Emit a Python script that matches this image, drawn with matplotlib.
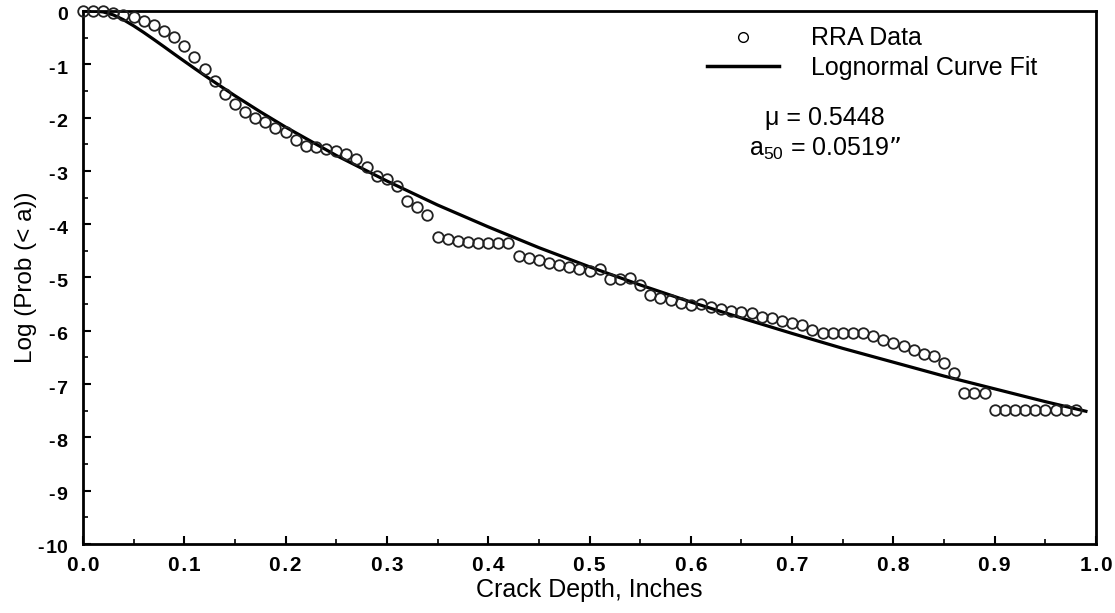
import matplotlib
matplotlib.use("Agg")
import matplotlib.pyplot as plt
from matplotlib.lines import Line2D
from matplotlib.ticker import MultipleLocator, FuncFormatter
from matplotlib.transforms import ScaledTranslation

# RRA data (crack depth in inches, log probability)
rra_depth = [0.00, 0.01, 0.02, 0.03, 0.04, 0.05, 0.06, 0.07, 0.08, 0.09,
             0.10, 0.11, 0.12, 0.13, 0.14, 0.15, 0.16, 0.17, 0.18, 0.19,
             0.20, 0.21, 0.22, 0.23, 0.24, 0.25, 0.26, 0.27, 0.28, 0.29,
             0.30, 0.31, 0.32, 0.33, 0.34, 0.35, 0.36, 0.37, 0.38, 0.39,
             0.40, 0.41, 0.42, 0.43, 0.44, 0.45, 0.46, 0.47, 0.48, 0.49,
             0.50, 0.51, 0.52, 0.53, 0.54, 0.55, 0.56, 0.57, 0.58, 0.59,
             0.60, 0.61, 0.62, 0.63, 0.64, 0.65, 0.66, 0.67, 0.68, 0.69,
             0.70, 0.71, 0.72, 0.73, 0.74, 0.75, 0.76, 0.77, 0.78, 0.79,
             0.80, 0.81, 0.82, 0.83, 0.84, 0.85, 0.86, 0.87, 0.88, 0.89,
             0.90, 0.91, 0.92, 0.93, 0.94, 0.95, 0.96, 0.97, 0.98]
rra_logp = [0.00, 0.00, 0.00, -0.03, -0.08, -0.12, -0.18, -0.26, -0.37, -0.49,
            -0.66, -0.86, -1.08, -1.32, -1.55, -1.75, -1.89, -2.00, -2.09, -2.19,
            -2.28, -2.42, -2.53, -2.56, -2.59, -2.63, -2.68, -2.78, -2.93, -3.09,
            -3.16, -3.28, -3.56, -3.68, -3.83, -4.24, -4.28, -4.31, -4.34, -4.35,
            -4.36, -4.36, -4.36, -4.60, -4.64, -4.68, -4.72, -4.77, -4.80, -4.85,
            -4.88, -4.85, -5.03, -5.03, -5.01, -5.14, -5.33, -5.38, -5.43, -5.48,
            -5.51, -5.49, -5.55, -5.60, -5.63, -5.64, -5.66, -5.74, -5.76, -5.82,
            -5.85, -5.89, -5.99, -6.04, -6.04, -6.04, -6.04, -6.04, -6.10, -6.18,
            -6.23, -6.29, -6.36, -6.44, -6.47, -6.60, -6.79, -7.17, -7.17, -7.17,
            -7.49, -7.49, -7.49, -7.49, -7.49, -7.49, -7.49, -7.49, -7.49]

# Lognormal curve fit
fit_depth = [0.00, 0.01, 0.02, 0.03, 0.04, 0.05, 0.06, 0.07, 0.08, 0.09,
             0.10, 0.11, 0.12, 0.13, 0.15, 0.175, 0.20, 0.25, 0.30, 0.35,
             0.40, 0.45, 0.50, 0.55, 0.60, 0.65, 0.70, 0.75, 0.80, 0.85,
             0.90, 0.95, 0.99]
fit_logp = [0.00, -0.001, -0.018, -0.074, -0.165, -0.278, -0.403, -0.535, -0.670, -0.807,
            -0.942, -1.076, -1.208, -1.337, -1.590, -1.891, -2.178, -2.710, -3.190, -3.640,
            -4.050, -4.440, -4.800, -5.140, -5.460, -5.760, -6.050, -6.330, -6.590, -6.850,
            -7.090, -7.330, -7.510]

x_ticks = [0.0, 0.1, 0.2, 0.3, 0.4, 0.5, 0.6, 0.7, 0.8, 0.9, 1.0]
y_ticks = [0, -1, -2, -3, -4, -5, -6, -7, -8, -9, -10]

plt.rcParams['font.family'] = ['Liberation Sans', 'DejaVu Sans']

fig = plt.figure(figsize=(11.15, 6.13), dpi=100)
ax = fig.add_axes([0.0744, 0.1126, 0.9086, 0.8695])

ax.plot(fit_depth, fit_logp, color='black', lw=2.3, zorder=2)
ax.plot(rra_depth, rra_logp, linestyle='none', marker='o', markersize=7.6,
        markerfacecolor='none', markeredgecolor='#222222', markeredgewidth=1.3,
        zorder=3, clip_on=False)

ax.set_xlim(0.0, 1.0)
ax.set_ylim(-10, 0)
ax.set_xticks(x_ticks)
ax.set_yticks(y_ticks)
ax.xaxis.set_minor_locator(MultipleLocator(0.05))
ax.yaxis.set_minor_locator(MultipleLocator(0.5))
ax.xaxis.set_major_formatter(FuncFormatter(lambda v, p: "\u200a".join(f"{v:.1f}")))
ax.yaxis.set_major_formatter(FuncFormatter(
    lambda v, p: ("-\u200a" + str(abs(int(round(v))))) if round(v) < 0 else "0"))

ax.tick_params(axis='both', which='major', direction='in', length=6, width=1.5)
ax.tick_params(axis='both', which='minor', direction='in', length=3.5, width=1.2)
ax.tick_params(axis='x', pad=9, labelsize=15)
ax.tick_params(axis='y', pad=11, labelsize=14)
shift = ScaledTranslation(0, -3 / 100, fig.dpi_scale_trans)
for lbl in ax.get_xticklabels():
    lbl.set_fontweight('bold')
for lbl in ax.get_yticklabels():
    lbl.set_fontweight('bold')
    lbl.set_transform(lbl.get_transform() + shift)

for s in ax.spines.values():
    s.set_linewidth(2.0)

ax.set_xlabel("Crack Depth, Inches", fontsize=18, labelpad=2)
ax.set_ylabel("Log (Prob (< a))", fontsize=17.5, labelpad=1)

handles = [
    Line2D([], [], linestyle='none', marker='o', markersize=7,
           markerfacecolor='none', markeredgecolor='black', markeredgewidth=1.0),
    Line2D([], [], color='black', lw=2.5),
]
leg = ax.legend(handles, ["RRA Data", "Lognormal Curve Fit"], loc='upper left',
                bbox_to_anchor=(0.606, 0.99), frameon=False, fontsize=18,
                handlelength=2.9, handletextpad=1.25, labelspacing=0.22,
                borderaxespad=0.0)

ax.text(0.7325, 0.799, "\u03bc = 0.5448", transform=ax.transAxes,
        fontsize=18, ha='center', va='center')
ax.text(0.7325, 0.741, "a$_{\\mathregular{50}}$ = 0.0519\u201d", transform=ax.transAxes,
        fontsize=18, ha='center', va='center')

fig.savefig("out.png", dpi=100)
